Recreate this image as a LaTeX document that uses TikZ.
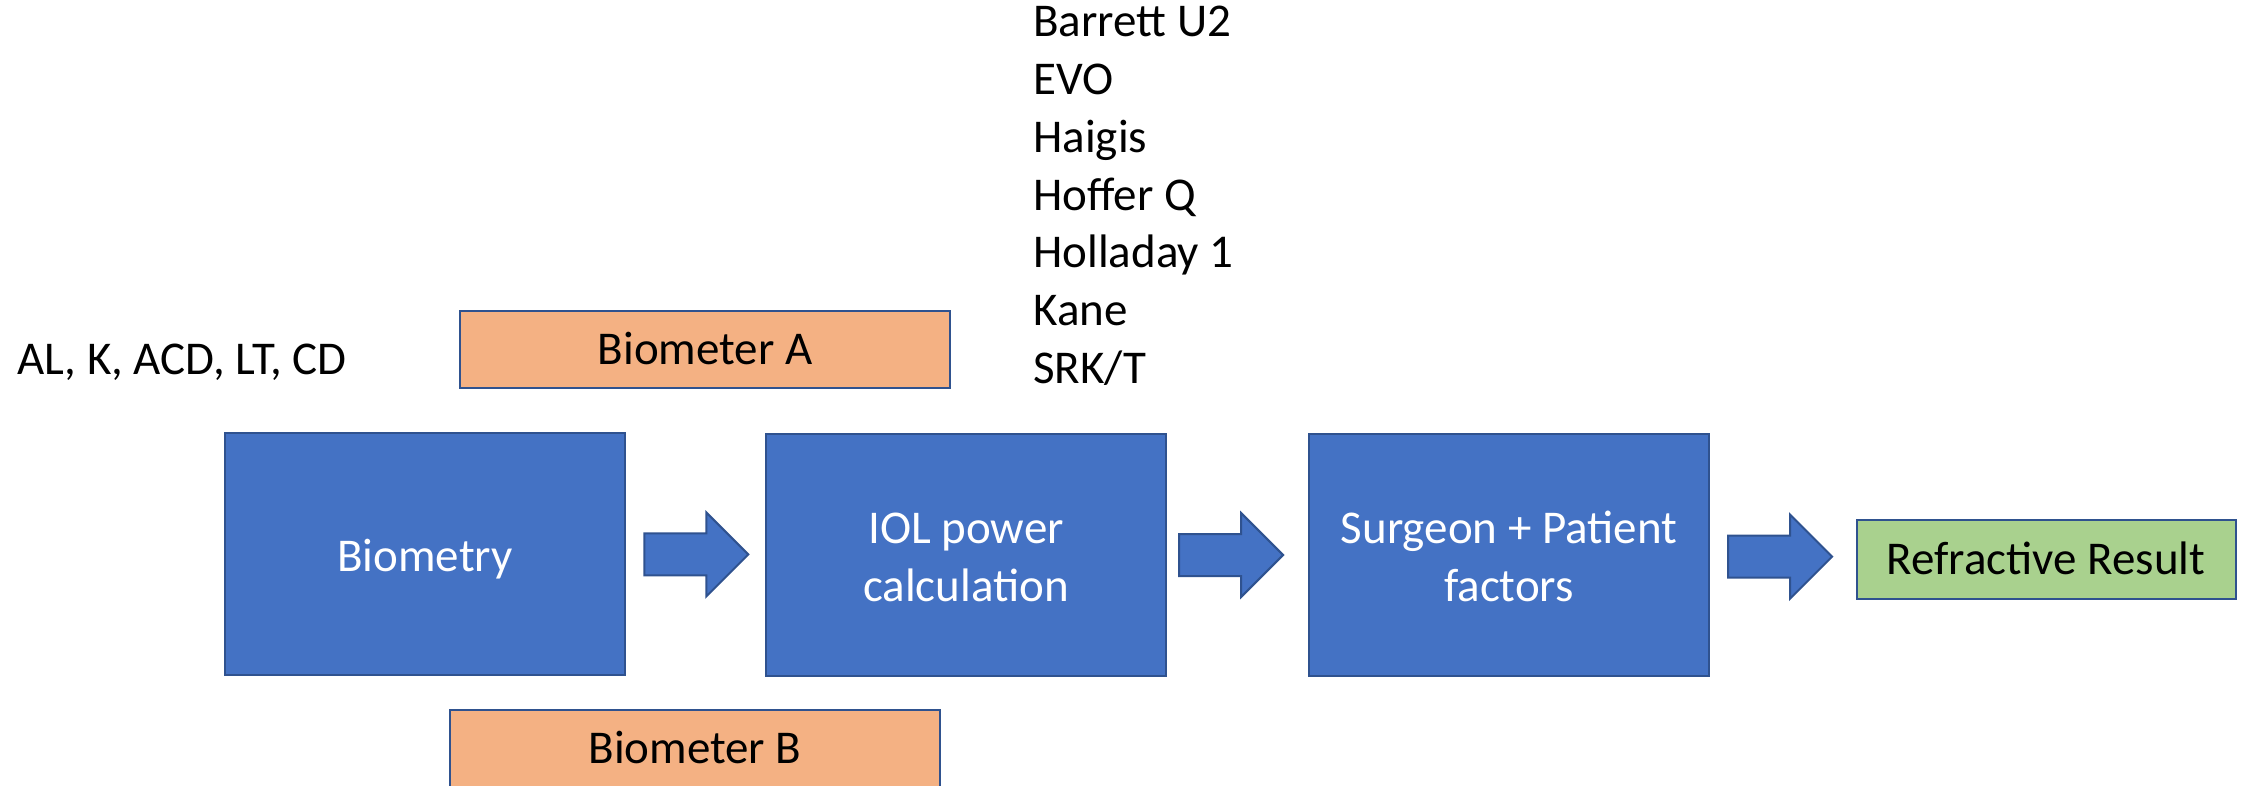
\documentclass[tikz,border=0pt]{standalone}
\usepackage{fontspec}
\setmainfont{Carlito}
\usetikzlibrary{shapes.arrows,calc}

\definecolor{boxblue}{HTML}{4472C4}
\definecolor{edgeblue}{HTML}{2F528F}
\definecolor{meterorange}{HTML}{F4B183}
\definecolor{resultgreen}{HTML}{A9D18E}

\begin{document}
\begin{tikzpicture}[x=0.5pt,y=-0.5pt,font=\fontsize{23.5}{29}\selectfont]

        \useasboundingbox (0,0) rectangle (2247,786);

        \begin{scope}[every node/.style={rectangle,draw=edgeblue,line width=1pt,fill=boxblue,text=white,align=center,minimum width=200pt,minimum height=121pt}]
          \node[text height=17pt,text depth=0pt]   (bio)  at (425,554)  {Biometry};
          \node[text height=46.5pt,text depth=0pt] (iol)  at (966,555)  {IOL power\\calculation};
          \node[text height=46.5pt,text depth=0pt] (surg) at (1509,555) {Surgeon + Patient\\factors};
        \end{scope}

        \begin{scope}[every node/.style={rectangle,draw=edgeblue,line width=1pt,fill=meterorange,minimum width=245pt,minimum height=38.5pt,text height=15.5pt,text depth=0pt}]
          \node (bma) at (705,349) {Biometer A};
          \node (bmb) at (695,748) {Biometer B};
        \end{scope}

        \node[draw=edgeblue,line width=1pt,fill=resultgreen,minimum width=189.5pt,minimum height=39.5pt,text height=15.5pt,text depth=0pt] (res) at (2046,559) {Refractive Result};

        % block arrows between the stages
        \begin{scope}[every node/.style={single arrow,draw=edgeblue,line width=1pt,fill=boxblue,inner xsep=0pt,inner ysep=10pt,single arrow head extend=10.5pt,minimum height=52pt}]
          \node (a1) at ($(bio.east)!.43!(iol.west)$)  {};
          \node (a2) at ($(iol.east)!.38!(surg.west)$) {};
          \node (a3) at ($(surg.east)!.41!(res.west)$) {};
        \end{scope}

        \begin{scope}[every node/.style={anchor=base west,inner sep=0pt}]
          \node (params) at (17,374) {AL, K, ACD, LT, CD};
          \foreach \formula [count=\i from 0] in {Barrett U2,EVO,Haigis,Hoffer Q,Holladay 1,Kane,SRK/T}
            \node (f\i) at (1033,37+57.7*\i) {\formula};
        \end{scope}

      \end{tikzpicture}
\end{document}
